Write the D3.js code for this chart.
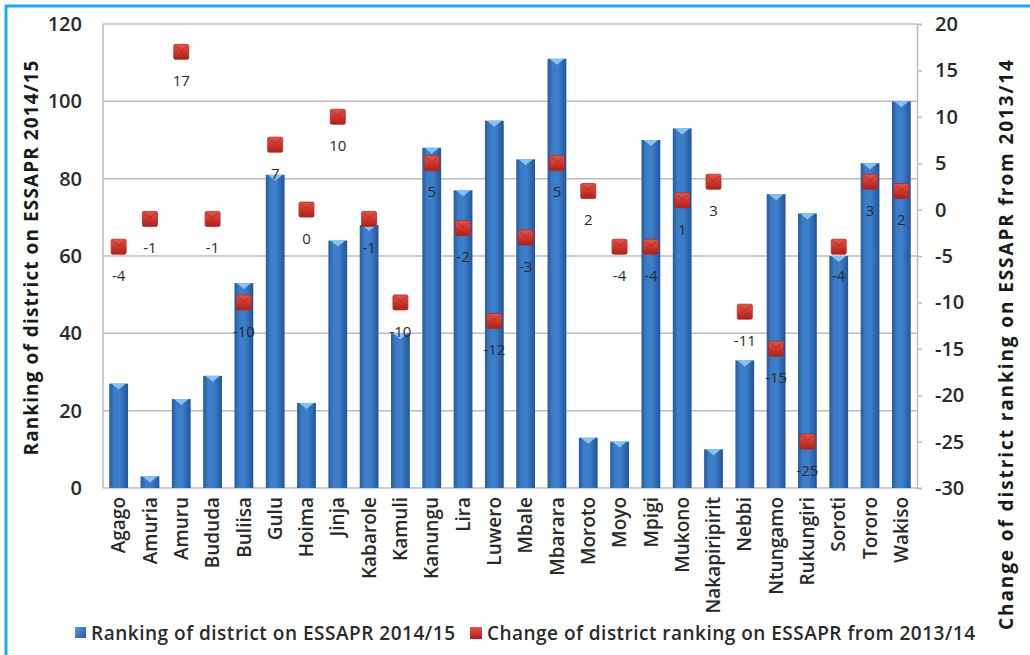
<!DOCTYPE html>
<html><head><meta charset="utf-8">
<script src="https://cdn.jsdelivr.net/npm/d3@7"></script>
<style>
html,body{margin:0;padding:0;background:#fff;}
svg{display:block;}
</style></head>
<body>
<svg id="chart" width="1030" height="655"></svg>
<script>
const districts = ["Agago","Amuria","Amuru","Bududa","Buliisa","Gulu","Hoima","Jinja","Kabarole","Kamuli","Kanungu","Lira","Luwero","Mbale","Mbarara","Moroto","Moyo","Mpigi","Mukono","Nakapiripirit","Nebbi","Ntungamo","Rukungiri","Soroti","Tororo","Wakiso"];
const ranking2014 = [27,3,23,29,53,81,22,64,68,40,88,77,95,85,111,13,12,90,93,10,33,76,71,60,84,100];
const change2013 = [-4,-1,17,-1,-10,7,0,10,-1,-10,5,-2,-12,-3,5,2,-4,-4,1,3,-11,-15,-25,-4,3,2];
const leftTicks = [0,20,40,60,80,100,120];
const rightTicks = [-30,-25,-20,-15,-10,-5,0,5,10,15,20];
const seriesNames = ["Ranking of district on ESSAPR 2014/15","Change of district ranking on ESSAPR from 2013/14"];

const svg = d3.select("#chart");
const FONT = "'Open Sans', 'DejaVu Sans', sans-serif";
const plot = {left:103, right:917, top:24, bottom:488};

const defs = svg.append("defs");
const bg = defs.append("linearGradient").attr("id","barGrad").attr("x1","0").attr("x2","1").attr("y1","0").attr("y2","0");
[["0%","#255a9c"],["25%","#3a7cc8"],["55%","#3d7fcb"],["100%","#22559a"]].forEach(s=>bg.append("stop").attr("offset",s[0]).attr("stop-color",s[1]));
const rg = defs.append("linearGradient").attr("id","mkGrad").attr("x1","0").attr("x2","0").attr("y1","0").attr("y2","1");
[["0%","#e6574a"],["45%","#cf3a30"],["100%","#a8221c"]].forEach(s=>rg.append("stop").attr("offset",s[0]).attr("stop-color",s[1]));
const lg = defs.append("linearGradient").attr("id","legBlue").attr("x1","0").attr("x2","1").attr("y1","0").attr("y2","1");
[["0%","#5a9be0"],["100%","#245a9c"]].forEach(s=>lg.append("stop").attr("offset",s[0]).attr("stop-color",s[1]));

// frame (top & left edges)
svg.append("path").attr("d","M6,655 L6,6 L1030,6").attr("fill","none").attr("stroke","#1aaee8").attr("stroke-width",3);

const x = d3.scaleBand().domain(districts).range([plot.left, plot.right]).paddingInner(0.4).paddingOuter(0.2);
const yL = d3.scaleLinear().domain([0,120]).range([plot.bottom, plot.top]);
const yR = d3.scaleLinear().domain([-30,20]).range([plot.bottom, plot.top]);

// gridlines
svg.append("g").selectAll("line").data(leftTicks).join("line")
  .attr("x1",plot.left).attr("x2",plot.right)
  .attr("y1",d=>yL(d)).attr("y2",d=>yL(d))
  .attr("stroke","#bdbdbd").attr("stroke-width",1.5);
svg.append("line").attr("x1",plot.left).attr("x2",plot.left).attr("y1",plot.top).attr("y2",plot.bottom).attr("stroke","#bdbdbd").attr("stroke-width",1.5);

// left axis labels
const gL = svg.append("g").attr("transform",`translate(${plot.left},0)`)
  .call(d3.axisLeft(yL).tickValues(leftTicks).tickSize(0).tickPadding(21));
gL.select(".domain").remove();
gL.selectAll("text").attr("font-family",FONT).attr("font-size",20).attr("font-weight",600).attr("fill","#2a2a2a");

// right axis
const gR = svg.append("g").attr("transform",`translate(${plot.right},0)`)
  .call(d3.axisRight(yR).tickValues(rightTicks).tickSize(5).tickPadding(13).tickFormat(d=>String(d)));
gR.select(".domain").attr("stroke","#bdbdbd").attr("stroke-width",1.5);
gR.selectAll(".tick line").attr("stroke","#bdbdbd").attr("stroke-width",1.5);
gR.selectAll("text").attr("font-family",FONT).attr("font-size",20).attr("font-weight",600).attr("fill","#2a2a2a");

// bars
const bw = x.bandwidth();
const bars = svg.append("g").selectAll("g").data(districts).join("g");
bars.append("rect")
  .attr("x",d=>x(d)).attr("width",bw)
  .attr("y",(d,i)=>yL(ranking2014[i])).attr("height",(d,i)=>yL(0)-yL(ranking2014[i]))
  .attr("fill","url(#barGrad)");
bars.append("path")
  .attr("d",(d,i)=>{const x0=x(d), y0=yL(ranking2014[i]); return `M${x0+2},${y0} L${x0+bw-2},${y0} L${x0+bw/2},${y0+6} Z`;})
  .attr("fill","#8cc6f2").attr("opacity",0.95);

// markers
const ms = 15;
const mk = svg.append("g").selectAll("g").data(districts).join("g")
  .attr("transform",(d,i)=>`translate(${x(d)+bw/2},${yR(change2013[i])})`);
mk.append("rect").attr("x",-ms/2).attr("y",-ms/2).attr("width",ms).attr("height",ms).attr("rx",1.5)
  .attr("fill","url(#mkGrad)").attr("stroke","#b32a22").attr("stroke-width",0.8);
mk.append("path").attr("d",`M${-ms/2+1.5},${-ms/2+1.5} L0,${-1} L${ms/2-1.5},${-ms/2+1.5}`)
  .attr("fill","none").attr("stroke","#9e1c16").attr("stroke-width",1).attr("opacity",0.6);
mk.append("text").attr("x",0).attr("y",29).attr("dy","0.35em").attr("text-anchor","middle")
  .attr("font-family",FONT).attr("font-size",15).attr("font-weight",500).attr("fill","#2a2a2a")
  .text((d,i)=>change2013[i]);

// x labels
svg.append("g").selectAll("text").data(districts).join("text")
  .attr("transform",d=>`translate(${x(d)+bw/2},${plot.bottom+9}) rotate(-90)`)
  .attr("text-anchor","end").attr("dy","0.35em")
  .attr("font-family",FONT).attr("font-size",19).attr("font-weight",600).attr("fill","#2a2a2a")
  .text(d=>d);

// axis titles
svg.append("text").attr("transform",`translate(31,258) rotate(-90)`)
  .attr("text-anchor","middle").attr("dy","0.35em")
  .attr("font-family",FONT).attr("font-size",19).attr("font-weight","bold").attr("fill","#1a1a1a")
  .attr("textLength",395).attr("lengthAdjust","spacing")
  .text(seriesNames[0]);
svg.append("text").attr("transform",`translate(1006,345) rotate(-90)`)
  .attr("text-anchor","middle").attr("dy","0.35em")
  .attr("font-family",FONT).attr("font-size",19).attr("font-weight","bold").attr("fill","#1a1a1a")
  .attr("textLength",570).attr("lengthAdjust","spacing")
  .text(seriesNames[1]);

// legend
const leg = svg.append("g");
leg.append("rect").attr("x",75).attr("y",627).attr("width",11).attr("height",11).attr("fill","url(#legBlue)");
leg.append("text").attr("x",91).attr("y",633).attr("dy","0.35em")
  .attr("font-family",FONT).attr("font-size",19).attr("font-weight",600).attr("fill","#2a2a2a")
  .attr("textLength",364).attr("lengthAdjust","spacing").text(seriesNames[0]);
leg.append("rect").attr("x",470).attr("y",627).attr("width",12).attr("height",12).attr("fill","url(#mkGrad)");
leg.append("text").attr("x",487).attr("y",633).attr("dy","0.35em")
  .attr("font-family",FONT).attr("font-size",19).attr("font-weight",600).attr("fill","#2a2a2a")
  .attr("textLength",488).attr("lengthAdjust","spacing").text(seriesNames[1]);
</script>
</body></html>
